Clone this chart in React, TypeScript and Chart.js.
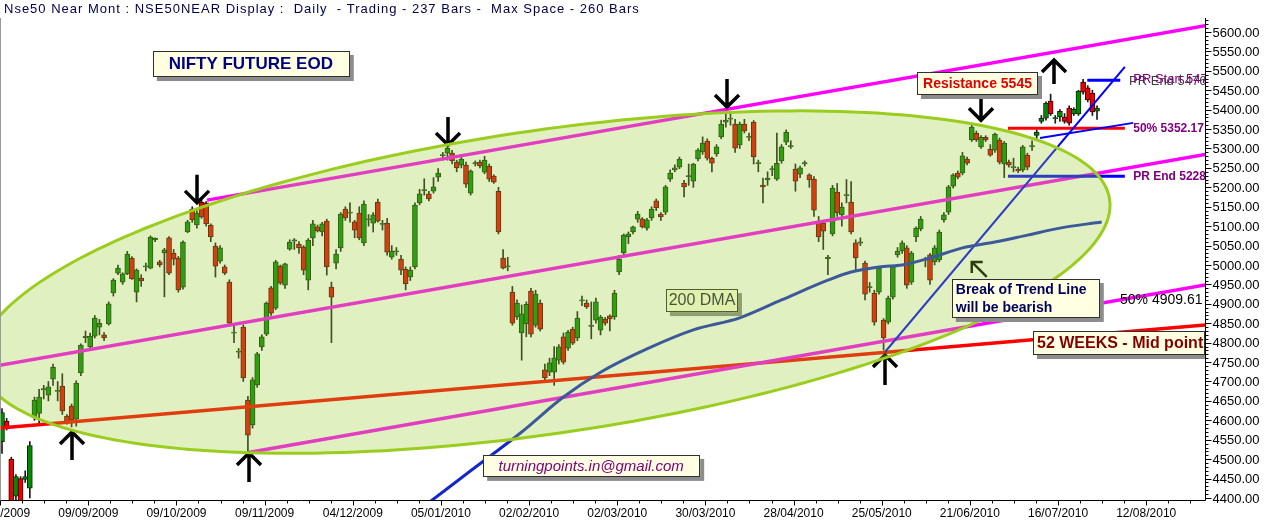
import { useEffect, useRef } from "react";
import { Chart, registerables } from "chart.js";
Chart.register(...registerables);

const TITLE = "Nse50 Near Mont : NSE50NEAR Display :  Daily  - Trading - 237 Bars -  Max Space - 260 Bars";

const OPEN = [4545,4598,4500,4405,4450,4448,4425,4606,4618,4678,4665,4706,4675,4688,4611,4637,4603,4722,4813,4789,4817,4840,4820,4848,4928,4979,4956,4977,5018,4930,4966,4995,4992,5066,5008,5031,5070,5030,5018,4943,5085,5144,5103,5162,5160,5103,5049,5010,4995,4956,4825,4776,4840,4652,4588,4691,4789,4822,4941,4889,4997,4948,5041,5062,5054,5046,4961,5070,5098,5085,5113,4943,5005,5044,5144,5134,5111,5134,5057,5116,5108,5162,5105,5108,5020,5034,5015,4989,4969,4995,5160,5192,5183,5190,5226,5282,5288,5288,5265,5257,5257,5185,5261,5265,5239,5255,5229,5190,5018,4995,4930,4866,4825,4848,4933,4845,4902,4730,4724,4724,4755,4815,4786,4835,4812,4908,4902,4842,4858,4832,4861,4869,4866,4982,5031,5072,5085,5118,5118,5095,5121,5165,5131,5136,5221,5245,5252,5211,5228,5216,5273,5291,5319,5275,5286,5330,5368,5376,5363,5309,5363,5329,5368,5262,5206,5219,5246,5221,5268,5316,5305,5247,5234,5261,5232,5221,5111,5108,5017,5080,5188,5129,5179,5162,5057,5057,5005,4942,4928,4930,4858,4853,4917,5026,5036,5044,4956,5072,5093,5013,5026,5008,5013,5116,5136,5203,5237,5237,5273,5322,5339,5304,5329,5298,5296,5322,5260,5265,5251,5247,5245,5283,5305,5334,5370,5378,5422,5377,5381,5381,5404,5389,5389,5471,5456,5443,5396];
const HIGH = [4630,4605,4505,4460,4455,4470,4545,4660,4680,4690,4700,4745,4700,4720,4615,4642,4702,4797,4830,4825,4870,4860,4826,4905,4965,5000,4980,5035,5022,4990,4975,5005,5075,5070,5012,5043,5073,5040,5022,5062,5115,5150,5140,5168,5163,5106,5057,5050,5000,4962,4845,4785,4846,4662,4710,4775,4820,4905,4945,5012,5000,5005,5065,5068,5060,5050,5068,5115,5103,5110,5118,4956,5040,5135,5150,5160,5115,5150,5165,5130,5135,5170,5115,5120,5050,5045,5025,4995,4995,5160,5195,5222,5190,5225,5248,5290,5305,5295,5270,5278,5265,5245,5268,5270,5280,5260,5232,5200,5040,5020,4945,4910,4897,4905,4940,4935,4910,4745,4760,4790,4795,4825,4832,4840,4880,4920,4910,4905,4915,4870,4865,4872,4935,5025,5080,5085,5100,5138,5122,5120,5150,5170,5135,5205,5245,5258,5278,5218,5260,5262,5300,5330,5325,5278,5310,5373,5390,5392,5375,5368,5375,5340,5372,5270,5224,5240,5255,5340,5310,5348,5320,5260,5255,5268,5235,5228,5125,5115,5025,5205,5210,5160,5220,5215,5065,5070,5010,4955,4935,4995,4862,4920,5000,5045,5062,5050,5035,5098,5125,5020,5030,5050,5090,5135,5205,5235,5242,5290,5278,5365,5345,5333,5333,5310,5340,5327,5318,5270,5275,5252,5308,5288,5320,5348,5385,5420,5440,5385,5400,5390,5410,5405,5450,5478,5462,5450,5410];
const LOW = [4515,4575,4385,4395,4385,4440,4400,4600,4590,4655,4650,4690,4650,4615,4590,4583,4585,4715,4800,4780,4812,4820,4805,4845,4920,4975,4950,4975,4963,4905,4945,4985,4990,5060,4995,4918,4975,5000,4930,4938,5083,5110,5095,5120,5100,5060,4969,5005,4975,4848,4800,4760,4700,4520,4580,4685,4780,4818,4870,4885,4950,4940,5038,5040,5030,4975,4936,5050,5085,5075,4974,4800,4990,5035,5115,5110,5070,5065,5050,5100,5085,5110,5090,5025,5015,5025,4975,4936,4960,4990,5155,5180,5165,5185,5215,5270,5270,5260,5240,5250,5200,5180,5255,5250,5235,5215,5210,5080,4990,4985,4845,4860,4755,4815,4815,4840,4830,4700,4715,4690,4745,4745,4780,4795,4805,4895,4888,4810,4850,4820,4845,4830,4860,4975,5025,5055,5080,5110,5095,5090,5115,5140,5115,5130,5215,5240,5248,5175,5205,5200,5268,5285,5270,5240,5280,5325,5355,5360,5290,5300,5340,5320,5260,5240,5160,5205,5230,5218,5262,5310,5300,5190,5225,5255,5200,5125,5060,5040,4975,5075,5125,5100,5160,5080,4985,5050,4910,4930,4845,4925,4781,4848,4912,5020,5030,4940,4950,5060,5088,4995,4950,5000,5008,5110,5130,5198,5222,5232,5258,5318,5318,5300,5318,5280,5290,5260,5225,5252,5240,5238,5240,5245,5295,5325,5365,5373,5385,5365,5370,5365,5360,5385,5385,5440,5420,5385,5375];
const CLOSE = [4620,4580,4390,4455,4390,4455,4535,4652,4660,4682,4686,4737,4677,4624,4593,4601,4696,4794,4816,4817,4863,4850,4812,4900,4961,4992,4977,5028,4964,4987,4959,4998,5072,5068,5000,5039,4979,5015,4936,5059,5111,5116,5134,5124,5106,5072,4997,5044,4979,4850,4827,4778,4709,4562,4704,4771,4815,4902,4876,5008,4953,5003,5059,5064,5044,4987,5064,5106,5088,5106,4995,4917,5028,5131,5121,5136,5090,5070,5157,5119,5129,5113,5107,5033,5036,5036,4987,4951,4987,5154,5183,5194,5170,5201,5237,5284,5301,5268,5250,5273,5208,5242,5263,5255,5270,5221,5213,5085,4992,4998,4850,4902,4874,4899,4822,4925,4835,4709,4748,4761,4789,4750,4827,4799,4863,4910,4892,4845,4905,4866,4850,4861,4928,5015,5077,5080,5098,5131,5098,5116,5144,5147,5124,5201,5237,5250,5273,5201,5230,5260,5296,5314,5275,5262,5304,5363,5373,5378,5301,5363,5345,5331,5278,5263,5201,5224,5248,5262,5304,5342,5307,5216,5250,5263,5219,5141,5072,5087,5019,5198,5134,5149,5181,5085,5018,5059,4925,4944,4853,4992,4812,4915,4995,5036,5057,4948,5031,5095,5118,5015,4961,5044,5085,5129,5201,5232,5226,5281,5262,5355,5322,5329,5322,5283,5337,5265,5314,5257,5253,5242,5304,5252,5307,5342,5378,5417,5389,5379,5396,5370,5365,5401,5448,5445,5425,5394,5404];

const DATE_LABELS = ["12/08/2009","09/09/2009","09/10/2009","09/11/2009","04/12/2009","05/01/2010","02/02/2010","02/03/2010","30/03/2010","28/04/2010","25/05/2010","21/06/2010","16/07/2010","12/08/2010"];
const BARS_PER_LABEL = 19;
const LABEL_SHIFT = -0.4;
const X_MIN = -0.43;
const X_MAX = 259.27;
const Y_MIN = 4394.85;
const Y_MAX = 5636.05;
const Y_TICK_FIRST = 4400;
const Y_TICK_LAST = 5600;
const Y_TICK_STEP = 50;
const Y_MINOR_STEP = 10;

// 200-day moving average
const DMA_IDX = [90, 101, 112, 121, 129, 139, 149, 159, 168, 178, 183, 189, 194, 200, 207, 214, 221, 228, 237];
const DMA_VAL = [4370, 4470, 4570, 4660, 4724, 4784, 4833, 4864, 4910, 4961, 4982, 4995, 5000, 5018, 5044, 5059, 5077, 5095, 5111];

// drawn lines: [startIdx, startPrice, endIdx, endPrice]
const CHANNEL_UPPER = [44.2, 5167, 262, 5622];
const CHANNEL_MID = [-2, 4738.7, 262, 5290.5];
const CHANNEL_LOW = [53.4, 4518, 262, 4954];
const MID_52W = [-2, 4578.5, 262, 4848];
const TREND_LINE = [190.3, 4776, 242, 5510];
const PR_START = [233.9, 5476, 241, 5476];
const PR_END = [216.8, 5228.3, 242, 5228.3];
const LEVEL_50 = [216.8, 5352.17, 242, 5352.17];
const SHORT_BLUE = [223.7, 5327, 243.8, 5366];

// ellipse: centre, half width in bars, rise of the long axis, half height in points
const ELLIPSE_C_IDX = 117;
const ELLIPSE_C_PRICE = 4956;
const ELLIPSE_HALF_BARS = 121.8;
const ELLIPSE_RISE = 198;
const ELLIPSE_HALF_PTS = 394;

// arrows
const ARROW_IDX = [42, 96.1, 156.3, 211, 15.1, 53.2, 190.3, 226.7];
const ARROW_PRICE = [5160, 5309, 5407, 5373, 4570, 4516, 4768, 5528];
const ARROW_DIR = ["down", "down", "down", "down", "up", "up", "up", "up"];
const ARROW_LEN = [28, 28, 28, 24, 28, 29, 30, 24];
const DIAG_ARROW = [209, 5008];

const UP_COLOR = "#008a00";
const DOWN_COLOR = "#ee0000";
const FONT = '"Liberation Sans", Arial, sans-serif';

function seg(a: number[]) {
  return [{ x: a[0], y: a[1] }, { x: a[2], y: a[3] }];
}

function drawBox(ctx: CanvasRenderingContext2D, x: number, y: number, w: number, h: number) {
  ctx.fillStyle = "#8c8c8c";
  ctx.fillRect(x + 4, y + 4, w, h);
  ctx.fillStyle = "#ffffe1";
  ctx.fillRect(x, y, w, h);
  ctx.strokeStyle = "#303030";
  ctx.lineWidth = 1;
  ctx.strokeRect(Math.round(x) + 0.5, Math.round(y) + 0.5, w - 1, h - 1);
}

const decor = {
  id: "decor",
  beforeDraw(chart: any) {
    const { ctx, width, height } = chart;
    ctx.save();
    ctx.fillStyle = "#ffffff";
    ctx.fillRect(0, 0, width, height);
    ctx.restore();
  },
  afterDatasetsDraw(chart: any) {
    const ctx: CanvasRenderingContext2D = chart.ctx;
    const xs = chart.scales.x;
    const ys = chart.scales.y;
    const area = chart.chartArea;
    const px = (v: number) => xs.getPixelForValue(v);
    const py = (v: number) => ys.getPixelForValue(v);

    ctx.save();
    ctx.beginPath();
    ctx.rect(area.left, area.top, area.right - area.left, area.bottom - area.top);
    ctx.clip();

    // arrows
    ctx.strokeStyle = "#000000";
    ctx.lineWidth = 3.5;
    ctx.lineCap = "butt";
    ctx.lineJoin = "miter";
    for (let k = 0; k < ARROW_IDX.length; k++) {
      const x = Math.round(px(ARROW_IDX[k]));
      const y = py(ARROW_PRICE[k]);
      const d = ARROW_DIR[k] === "up" ? 1 : -1;
      const L = ARROW_LEN[k];
      ctx.beginPath();
      ctx.moveTo(x, y);
      ctx.lineTo(x, y + d * L);
      ctx.moveTo(x - 12, y + d * 12);
      ctx.lineTo(x, y);
      ctx.lineTo(x + 12, y + d * 12);
      ctx.stroke();
    }
    {
      const x = px(DIAG_ARROW[0]);
      const y = py(DIAG_ARROW[1]);
      ctx.lineWidth = 2.5;
      ctx.beginPath();
      ctx.moveTo(x + 11, y);
      ctx.lineTo(x, y);
      ctx.lineTo(x, y + 11);
      ctx.moveTo(x, y);
      ctx.lineTo(x + 15, y + 15);
      ctx.stroke();
    }

    // 200 DMA label (under the ellipse wash)
    {
      const x = px(143.1), y = py(4938);
      drawBox(ctx, x, y, 72, 23);
      ctx.fillStyle = "#1c1c40";
      ctx.font = `16px ${FONT}`;
      ctx.textAlign = "center";
      ctx.textBaseline = "middle";
      ctx.fillText("200 DMA", x + 36, y + 12);
    }

    // ellipse
    ctx.beginPath();
    const N = 240;
    for (let s = 0; s <= N; s++) {
      const t = (s / N) * Math.PI * 2;
      const i = ELLIPSE_C_IDX + ELLIPSE_HALF_BARS * Math.cos(t);
      const p = ELLIPSE_C_PRICE + ELLIPSE_RISE * Math.cos(t) + ELLIPSE_HALF_PTS * Math.sin(t);
      const X = px(i), Y = py(p);
      if (s === 0) ctx.moveTo(X, Y); else ctx.lineTo(X, Y);
    }
    ctx.closePath();
    ctx.fillStyle = "rgba(154,205,50,0.3)";
    ctx.fill();
    ctx.strokeStyle = "#9acd1e";
    ctx.lineWidth = 3;
    ctx.stroke();

    ctx.textBaseline = "middle";
    // NIFTY FUTURE EOD
    {
      const x = px(32.5), y = py(5551);
      drawBox(ctx, x, y, 197, 26);
      ctx.fillStyle = "#000080";
      ctx.font = `bold 17px ${FONT}`;
      ctx.textAlign = "center";
      ctx.fillText("NIFTY FUTURE EOD", x + 98, y + 13.5);
    }
    // Resistance 5545
    {
      const x = px(197.2), y = py(5497);
      drawBox(ctx, x, y, 121, 23);
      ctx.fillStyle = "#e00000";
      ctx.font = `bold 14px ${FONT}`;
      ctx.textAlign = "center";
      ctx.fillText("Resistance 5545", x + 60.5, y + 12);
    }
    // Break of trend line
    {
      const x = px(204.7), y = py(4964);
      drawBox(ctx, x, y, 148, 39);
      ctx.fillStyle = "#000060";
      ctx.font = `bold 14px ${FONT}`;
      ctx.textAlign = "left";
      ctx.fillText("Break of Trend Line", x + 4, y + 11);
      ctx.fillText("will be bearish", x + 4, y + 29);
    }
    // 52 weeks
    {
      const x = px(222.2), y = py(4830);
      drawBox(ctx, x, y, 172, 24);
      ctx.fillStyle = "#800000";
      ctx.font = `bold 16px ${FONT}`;
      ctx.textAlign = "left";
      ctx.fillText("52 WEEKS - Mid point", x + 4, y + 12.5);
    }
    // email
    {
      const x = px(103.7), y = py(4511);
      drawBox(ctx, x, y, 217, 22);
      ctx.fillStyle = "#800080";
      ctx.font = `italic 15px ${FONT}`;
      ctx.textAlign = "center";
      ctx.fillText("turningpoints.in@gmail.com", x + 108, y + 11.5);
    }
    // level labels
    ctx.textAlign = "left";
    ctx.font = `13px ${FONT}`;
    ctx.fillStyle = "#404040";
    ctx.fillText("PR End 5476", px(242.9), py(5476) + 1);
    ctx.fillStyle = "#800080";
    ctx.fillText("PR Start 5476", px(243.8), py(5476) - 1);
    ctx.font = `bold 12px ${FONT}`;
    ctx.fillText("50% 5352.17", px(243.8), py(5352.17));
    ctx.fillText("PR End 5228.3", px(243.8), py(5228.3));
    ctx.font = `14px ${FONT}`;
    ctx.fillStyle = "#000000";
    ctx.fillText("50% 4909.61", px(240.95), py(4909.61));
    ctx.restore();

    // axes
    ctx.save();
    ctx.strokeStyle = "#000000";
    ctx.fillStyle = "#000000";
    ctx.lineWidth = 1;
    const R = Math.round(area.right) + 0.5;
    const B = Math.round(area.bottom) + 0.5;
    ctx.beginPath();
    ctx.moveTo(R, area.top);
    ctx.lineTo(R, B);
    ctx.moveTo(area.left, B);
    ctx.lineTo(R, B);
    ctx.stroke();
    // y ticks
    ctx.beginPath();
    for (let v = Y_TICK_FIRST - 50; v <= Y_MAX; v += Y_MINOR_STEP) {
      if (v < Y_MIN) continue;
      const y = Math.round(py(v)) + 0.5;
      const major = (v - Y_TICK_FIRST) % Y_TICK_STEP === 0;
      ctx.moveTo(R, y);
      ctx.lineTo(R + (major ? 6 : 3), y);
    }
    ctx.stroke();
    ctx.font = `13px ${FONT}`;
    ctx.textAlign = "left";
    ctx.textBaseline = "middle";
    for (let v = Y_TICK_FIRST; v <= Y_TICK_LAST; v += Y_TICK_STEP) {
      ctx.fillText(v.toFixed(2), R + 7, py(v) + 1);
    }
    // x ticks
    ctx.beginPath();
    for (let k = 0; k < DATE_LABELS.length * 4 + 4; k++) {
      const v = LABEL_SHIFT + (k * BARS_PER_LABEL) / 4;
      if (v > X_MAX) break;
      const x = Math.round(px(v)) + 0.5;
      ctx.moveTo(x, B);
      ctx.lineTo(x, B + (k % 4 === 0 ? 5 : 3));
    }
    ctx.stroke();
    ctx.font = `12px ${FONT}`;
    ctx.textAlign = "center";
    ctx.textBaseline = "middle";
    DATE_LABELS.forEach((lab, k) => {
      const v = LABEL_SHIFT + k * BARS_PER_LABEL;
      ctx.fillText(lab, px(v), B + 13);
    });
    // left frame
    ctx.strokeStyle = "#9a9a9a";
    ctx.beginPath();
    ctx.moveTo(0.5, area.top);
    ctx.lineTo(0.5, B);
    ctx.stroke();
    // title
    ctx.fillStyle = "#00004a";
    ctx.font = `13px ${FONT}`;
    ctx.textAlign = "left";
    ctx.textBaseline = "middle";
    (ctx as any).letterSpacing = "1px";
    ctx.fillText(TITLE, 4, 9);
    (ctx as any).letterSpacing = "0px";
    ctx.restore();
  },
};

export default function App() {
  const ref = useRef<HTMLCanvasElement | null>(null);
  useEffect(() => {
    document.body.style.margin = "0";
    const canvas = ref.current;
    if (!canvas) return;
    const bodies = OPEN.map((o, i) => {
      const c = CLOSE[i];
      let lo = Math.min(o, c), hi = Math.max(o, c);
      if (hi - lo < 3) {
        const m = (hi + lo) / 2;
        lo = m - 1.5;
        hi = m + 1.5;
      }
      return { x: i, y: [lo, hi] };
    });
    const wicks = OPEN.map((_, i) => ({ x: i, y: [LOW[i], HIGH[i]] }));
    const bodyColors = OPEN.map((o, i) => (CLOSE[i] >= o ? UP_COLOR : DOWN_COLOR));
    const bodyBorders = OPEN.map((o, i) => (CLOSE[i] >= o ? "#0a2a0a" : "#3a0000"));
    const lineDs = (pts: any[], color: string, width: number, extra: any = {}) => ({
      type: "line",
      data: pts,
      borderColor: color,
      borderWidth: width,
      pointRadius: 0,
      fill: false,
      order: 0,
      ...extra,
    });
    const chart = new Chart(canvas, {
      type: "bar",
      data: {
        datasets: [
          lineDs(DMA_IDX.map((x, k) => ({ x, y: DMA_VAL[k] })), "#1428c8", 3, { cubicInterpolationMode: "monotone" }),
          lineDs(seg(TREND_LINE), "#0000ff", 2),
          lineDs(seg(PR_START), "#0000ff", 3),
          lineDs(seg(PR_END), "#0000ff", 3),
          lineDs(seg(SHORT_BLUE), "#0000ff", 2),
          lineDs(seg(LEVEL_50), "#ff0000", 3),
          lineDs(seg(CHANNEL_UPPER), "#ff00ff", 3.5),
          lineDs(seg(CHANNEL_MID), "#ff00ff", 3.5),
          lineDs(seg(CHANNEL_LOW), "#ff00ff", 3.5),
          lineDs(seg(MID_52W), "#ff0000", 3.5),
          {
            type: "bar",
            data: bodies,
            backgroundColor: bodyColors,
            borderColor: bodyBorders,
            borderWidth: 1,
            borderSkipped: false,
            barThickness: 5,
            grouped: false,
            order: 1,
          },
          {
            type: "bar",
            data: wicks,
            backgroundColor: "#1a1a1a",
            borderWidth: 0,
            barThickness: 1,
            grouped: false,
            order: 2,
          },
        ] as any,
      },
      options: {
        animation: false,
        responsive: false,
        events: [],
        layout: { padding: { left: 0, right: 63, top: 18, bottom: 24 } },
        plugins: { legend: { display: false }, tooltip: { enabled: false }, title: { display: false } },
        scales: {
          x: { type: "linear", min: X_MIN, max: X_MAX, display: false, offset: false },
          y: { type: "linear", min: Y_MIN, max: Y_MAX, display: false },
        },
      } as any,
      plugins: [decor],
    });
    return () => chart.destroy();
  }, []);
  return <canvas ref={ref} width={1268} height={524} style={{ display: "block" }} />;
}
